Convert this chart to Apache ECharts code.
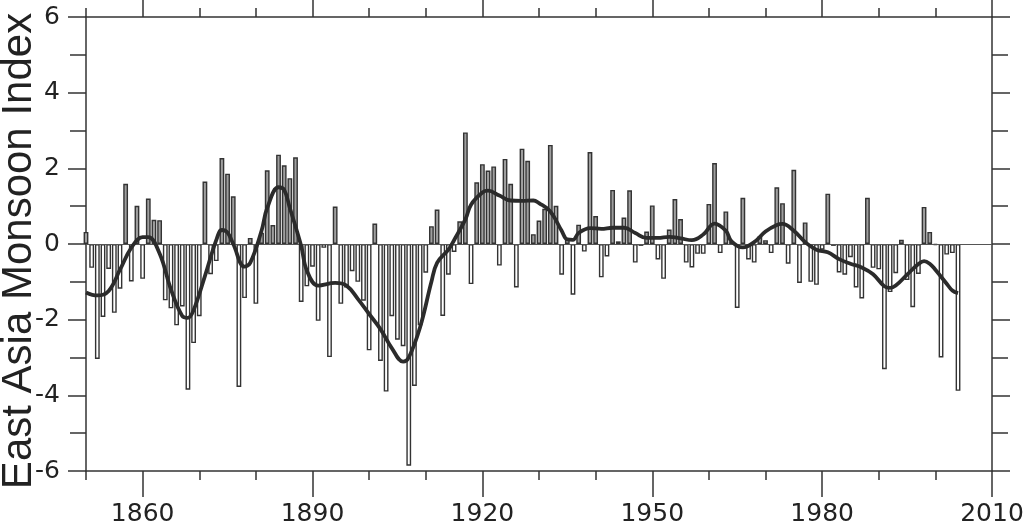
<!DOCTYPE html>
<html>
<head>
<meta charset="utf-8">
<script src="https://cdn.jsdelivr.net/npm/echarts@6/dist/echarts.min.js"></script>
<style>
html,body{margin:0;padding:0;background:#fff;}
#chart{width:1024px;height:521px;}
</style>
</head>
<body>
<div id="chart"></div>
<script>
// ---- data ----
const firstYear = 1850;
// annual index values, 1850 .. 2004
const indexValues = [
  0.32, -0.63, -3.04, -1.93, -0.66, -1.82, -1.18, 1.59, -0.99, 1.01,   // 1850s
  -0.92, 1.20, 0.64, 0.63, -1.49, -1.70, -2.15, -1.65, -3.85, -2.62,   // 1860s
  -1.91, 1.65, -0.80, -0.45, 2.27, 1.86, 1.26, -3.78, -1.43, 0.16,     // 1870s
  -1.58, 0.30, 1.95, 0.50, 2.36, 2.08, 1.74, 2.29, -1.53, -1.12,       // 1880s
  -0.60, -2.03, -0.10, -2.99, 0.99, -1.58, -1.15, -0.72, -1.00, -1.50, // 1890s
  -2.81, 0.54, -3.09, -3.90, -1.91, -2.53, -2.70, -5.86, -3.75, -2.15, // 1900s
  -0.76, 0.47, 0.91, -1.90, -0.81, -0.21, 0.60, 2.95, -1.06, 1.63,     // 1910s
  2.11, 1.94, 2.05, -0.57, 2.25, 1.59, -1.15, 2.52, 2.20, 0.26,        // 1920s
  0.62, 0.93, 2.62, 1.01, -0.81, 0.15, -1.34, 0.51, -0.20, 2.43,       // 1930s
  0.74, -0.88, -0.33, 1.43, 0.07, 0.70, 1.42, -0.49, -0.05, 0.33,      // 1940s
  1.02, -0.41, -0.92, 0.38, 1.19, 0.66, -0.49, -0.62, -0.26, -0.26,    // 1950s
  1.06, 2.14, -0.24, 0.86, 0.07, -1.69, 1.22, -0.41, -0.49, 0.20,      // 1960s
  0.10, -0.24, 1.50, 1.08, -0.52, 1.96, -1.03, 0.57, -1.00, -1.08,     // 1970s
  -0.15, 1.33, -0.05, -0.75, -0.81, -0.35, -1.15, -1.44, 1.22, -0.63,  // 1980s
  -0.67, -3.31, -1.27, -0.77, 0.11, -0.95, -1.67, -0.79, 0.98, 0.32,   // 1990s
  -0.03, -3.00, -0.28, -0.24, -3.88                                    // 2000s
];
// smoothed curve
const smoothYears = [1850,1852,1854,1856,1858,1860,1861,1863,1865,1867,1868,1869,1871,1873,1874,1875,1876,1878,1879,1881,1882,1884,1885,1886,1888,1889,1891,1894,1896,1898,1900,1902,1904,1906,1907,1909,1911,1912,1914,1915,1917,1918,1920,1921,1923,1925,1927,1929,1930,1932,1934,1935,1936,1937,1939,1941,1943,1945,1947,1949,1951,1953,1955,1957,1959,1961,1963,1964,1966,1968,1970,1972,1973,1975,1977,1979,1981,1983,1985,1987,1989,1991,1992,1993,1995,1997,1998,1999,2000,2002,2003,2004];
const smoothValues = [-1.28,-1.36,-1.24,-0.68,-0.10,0.18,0.18,-0.25,-1.20,-1.90,-1.95,-1.75,-0.85,0.10,0.37,0.30,0.00,-0.60,-0.50,0.35,0.95,1.50,1.43,0.95,-0.05,-0.70,-1.10,-1.03,-1.10,-1.45,-1.85,-2.25,-2.75,-3.11,-3.00,-2.20,-1.00,-0.50,-0.15,0.10,0.65,1.04,1.36,1.41,1.28,1.15,1.14,1.15,1.08,0.86,0.35,0.12,0.11,0.29,0.42,0.40,0.43,0.43,0.29,0.16,0.16,0.19,0.15,0.10,0.25,0.54,0.35,0.07,-0.09,0.05,0.33,0.50,0.53,0.35,0.05,-0.15,-0.22,-0.40,-0.52,-0.62,-0.80,-1.12,-1.16,-1.10,-0.81,-0.53,-0.45,-0.52,-0.68,-1.05,-1.23,-1.30];
const xMajorTicks = [1860, 1890, 1920, 1950, 1980, 2010];
const yTitle = 'East Asia Monsoon Index';

// ---- build ----
const barData = indexValues.map((v, i) => [firstYear + i, v]);
const lineData = smoothYears.map((y, i) => [y, smoothValues[i]]);

const AX = '#333';
const labelFont = { fontFamily: 'DejaVu Sans', fontSize: 25, color: '#222' };

function xAxisBase(pos, major) {
  return {
    type: 'value', position: pos, min: 1850, max: 2010,
    axisLine: { show: major, onZero: false, lineStyle: { color: AX, width: 1.5 } },
    splitLine: { show: false },
    axisTick: major
      ? { show: true, customValues: xMajorTicks, length: pos === 'bottom' ? 26 : 18, inside: false, lineStyle: { color: AX, width: 1.5 } }
      : { show: true, interval: 0, length: 9, inside: false, lineStyle: { color: AX, width: 1.5 } },
    interval: major ? undefined : 10,
    axisLabel: (major && pos === 'bottom')
      ? Object.assign({ show: true, customValues: xMajorTicks, margin: 31, formatter: v => String(v) }, labelFont)
      : { show: false }
  };
}
function yAxisBase(pos, withLabels) {
  return {
    type: 'value', position: pos, min: -6, max: 6, interval: 2,
    axisLine: { show: true, onZero: false, lineStyle: { color: AX, width: 1.5 } },
    splitLine: { show: false },
    axisTick: { show: true, length: 18, inside: false, lineStyle: { color: AX, width: 1.5 } },
    minorTick: { show: true, splitNumber: 2, length: 16, lineStyle: { color: AX, width: 1.5 } },
    axisLabel: withLabels ? Object.assign({ show: true, margin: 26, formatter: v => String(v) }, labelFont) : { show: false }
  };
}

const chart = echarts.init(document.getElementById('chart'), null, { renderer: 'canvas' });
chart.setOption({
  animation: false,
  backgroundColor: '#fff',
  grid: { left: 86, right: 32, top: 17, bottom: 50, containLabel: false, outerBoundsMode: 'none' },
  graphic: [{
    type: 'text',
    x: 19, y: 251,
    rotation: Math.PI / 2,
    style: {
      text: yTitle,
      font: '42px "Liberation Sans"',
      fill: '#222',
      textAlign: 'center',
      textVerticalAlign: 'middle'
    }
  }],
  xAxis: [
    xAxisBase('bottom', true),
    xAxisBase('bottom', false),
    xAxisBase('top', true),
    xAxisBase('top', false)
  ],
  yAxis: [yAxisBase('left', true), yAxisBase('right', false)],
  series: [
    {
      type: 'bar',
      xAxisIndex: 0, yAxisIndex: 0,
      data: barData,
      barWidth: 4.8,
      clip: true,
      itemStyle: {
        color: p => (p.value[1] >= 0 ? '#9f9f9f' : '#ffffff'),
        borderColor: '#333',
        borderWidth: 1.4
      },
      markLine: {
        silent: true, symbol: 'none', label: { show: false },
        lineStyle: { color: '#555', width: 1, type: 'solid' },
        data: [{ yAxis: 0 }]
      },
      z: 2
    },
    {
      type: 'line',
      xAxisIndex: 0, yAxisIndex: 0,
      data: lineData,
      smooth: 0.4,
      symbol: 'none',
      lineStyle: { color: '#2b2b2b', width: 3.8 },
      z: 5
    }
  ]
});
</script>
</body>
</html>
